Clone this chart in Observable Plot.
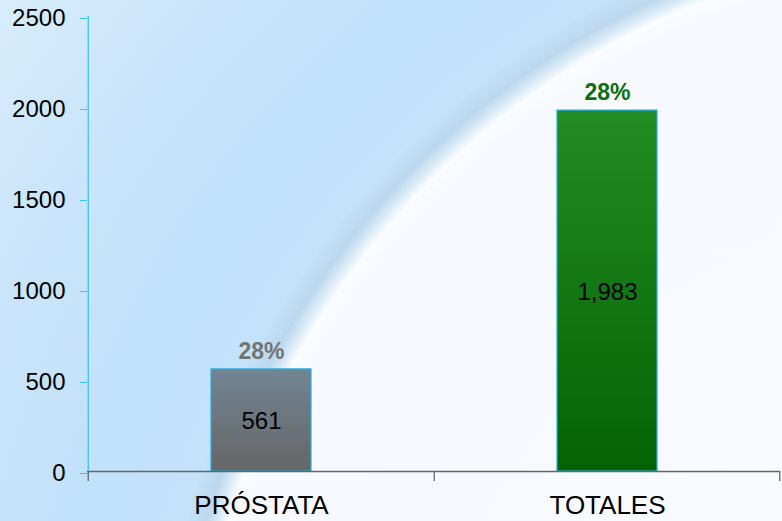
<!DOCTYPE html>
<html>
<head>
<meta charset="utf-8">
<script src="https://cdn.jsdelivr.net/npm/d3@7"></script>
<script src="https://cdn.jsdelivr.net/npm/@observablehq/plot@0.6"></script>
<style>
  html, body { margin: 0; padding: 0; background: #f7fbff; }
  #chart {
    width: 782px; height: 521px; overflow: hidden;
    background:
      radial-gradient(circle 1400px at 1000px 750px,
        #f8fbff 0px, #f6faff 790px, #fbfdff 805px, #d6e8f5 816px, #bcd7ed 826px,
        #c4e2fa 846px, #c2e1fa 950px, #cce6fb 1120px, #d8edfc 1250px, #dcefff 1400px);
  }
  #chart svg { display: block; }
</style>
</head>
<body>
<div id="chart"></div>
<script>
const categories = ["PRÓSTATA", "TOTALES"];
const values = [561, 1983];
const percents = ["28%", "28%"];
const yTicks = [0, 500, 1000, 1500, 2000, 2500];
const barFills = ["url(#gradGray)", "url(#gradGreen)"];
const pctColors = ["#737373", "#0d6e0d"];

const data = categories.map((c, i) => ({
  cat: c, value: values[i], pct: percents[i], fill: barFills[i], pctColor: pctColors[i]
}));

const W = 782, H = 521;
const mL = 87, mR = 2, mT = 16, mB = 50;
const step = (W - mL - mR) / categories.length;
const font = "'Liberation Sans', Arial, sans-serif";

const plot = Plot.plot({
  width: W, height: H,
  marginLeft: mL, marginRight: mR, marginTop: mT, marginBottom: mB,
  style: { background: "transparent", fontFamily: font, fontSize: "23px", color: "#000" },
  x: { domain: categories, paddingInner: 0.711, paddingOuter: 0.3555, label: null },
  y: { domain: [0, 2500], label: null },
  color: { type: "identity" },
  marks: [
    Plot.barY(data, { x: "cat", y: "value", fill: "fill", stroke: "#22b0e2", strokeWidth: 1.2 }),
    Plot.ruleY([0], { stroke: "#666666", strokeWidth: 1.3 }),
    // y axis line
    Plot.ruleX([categories[0]], { x: d => d, y1: 0, y2: 2500, dx: -step / 2, stroke: "#3cc3f2", strokeWidth: 1.3 }),
    // x boundary ticks
    Plot.ruleX(categories, { x: d => d, y1: 0, y2: 0, dx: -step / 2, insetBottom: -10, stroke: "#666666", strokeWidth: 1.3 }),
    Plot.ruleX([categories[categories.length - 1]], { x: d => d, y1: 0, y2: 0, dx: step / 2 - 1, insetBottom: -10, stroke: "#666666", strokeWidth: 1.3 }),
    Plot.axisY({ ticks: yTicks, tickSize: 7, tickPadding: 15, stroke: "#3cc3f2", fill: "#000", fontSize: 24, dy: 2, tickFormat: d => String(d) }),
    Plot.axisX({ tickSize: 0, tickPadding: 24, fontSize: 26, fill: "#000" }),
    Plot.text(data, { x: "cat", y: d => d.value / 2, text: d => d3.format(",")(d.value), fontSize: 24, fill: "#000", dy: 1 }),
    Plot.text(data, { x: "cat", y: "value", text: "pct", fill: "pctColor", fontSize: 23, fontWeight: "bold", dy: -18 })
  ]
});

// gradient definitions for the bars
const svgNS = "http://www.w3.org/2000/svg";
const defs = document.createElementNS(svgNS, "defs");
function grad(id, top, bottom) {
  const g = document.createElementNS(svgNS, "linearGradient");
  g.setAttribute("id", id);
  g.setAttribute("x1", "0"); g.setAttribute("y1", "0");
  g.setAttribute("x2", "0"); g.setAttribute("y2", "1");
  [[0, top], [1, bottom]].forEach(([o, c]) => {
    const s = document.createElementNS(svgNS, "stop");
    s.setAttribute("offset", o);
    s.setAttribute("stop-color", c);
    g.appendChild(s);
  });
  defs.appendChild(g);
}
grad("gradGray", "#728594", "#666666");
grad("gradGreen", "#238c23", "#036303");
plot.insertBefore(defs, plot.firstChild);

document.getElementById("chart").appendChild(plot);
</script>
</body>
</html>
